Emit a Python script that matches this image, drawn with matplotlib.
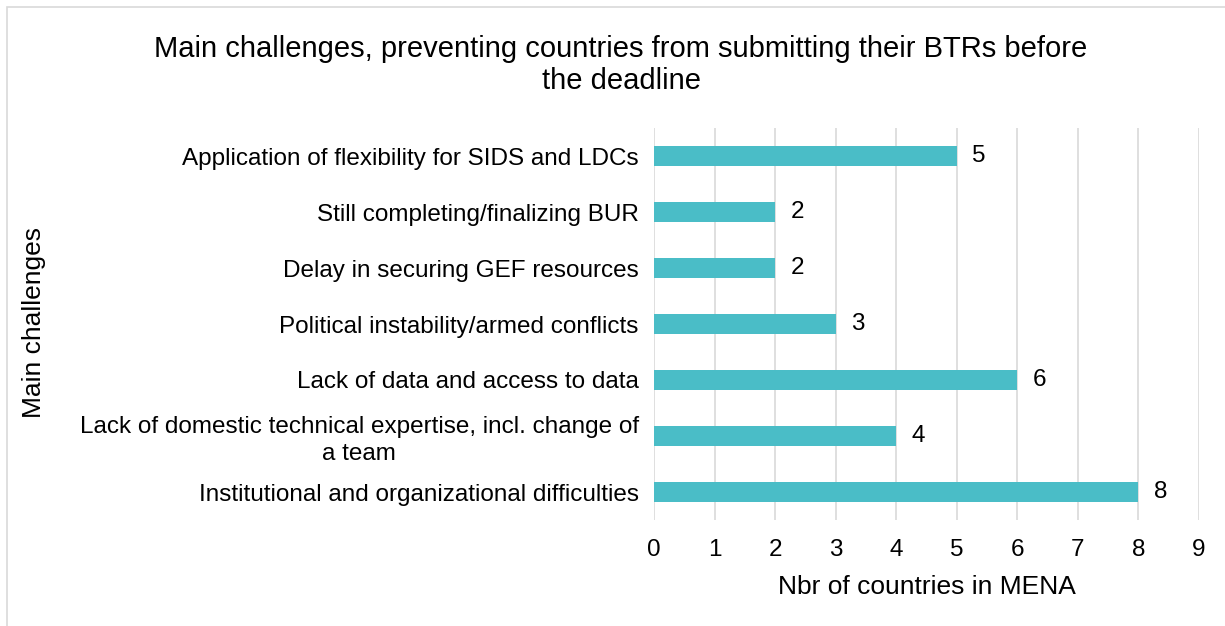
import matplotlib.pyplot as plt
from matplotlib.patches import Rectangle

plt.rcParams['font.family'] = ['Liberation Sans', 'DejaVu Sans']

categories = [
    "Institutional and organizational difficulties",
    "Lack of domestic technical expertise, incl. change of\na team",
    "Lack of data and access to data",
    "Political instability/armed conflicts",
    "Delay in securing GEF resources",
    "Still completing/finalizing BUR",
    "Application of flexibility for SIDS and LDCs",
]
counts = [8, 4, 6, 3, 2, 2, 5]
xticks = list(range(0, 10))

fig = plt.figure(figsize=(12.25, 6.26), dpi=100)
ax = fig.add_axes([654 / 1225, 1 - 520 / 626, 545 / 1225, 392 / 626])

# light border around the chart area
fig.patches.append(Rectangle((7 / 1225, -0.01), 1.0, 1 - 7 / 626 + 0.01,
                             transform=fig.transFigure, fill=False,
                             edgecolor='#D9D9D9', linewidth=1.2))

y = list(range(len(categories)))
ax.barh(y, counts, height=0.36, color='#4ABDC7', zorder=3)
for yi, v in zip(y, counts):
    ax.text(v + 0.25, yi, str(v), va='center', ha='left', fontsize=17.5, color='black')

ax.set_xlim(0, 9)
ax.set_ylim(-0.5, len(categories) - 0.5)
ax.set_xticks(xticks)
ax.set_yticks(y)
ax.set_yticklabels(categories, fontsize=17.5)
for lbl in ax.get_yticklabels():
    lbl.set_multialignment('center')
    lbl.set_linespacing(1.25)
ax.tick_params(axis='x', labelsize=17.5, length=0, pad=14)
ax.tick_params(axis='y', length=0, pad=11)
ax.grid(axis='x', color='#D9D9D9', linewidth=1.2, zorder=0)
for s in ax.spines.values():
    s.set_visible(False)

ax.set_xlabel('Nbr of countries in MENA', fontsize=19, labelpad=10)
fig.text(34 / 1225, 1 - 323 / 626, 'Main challenges', rotation=90,
         ha='center', va='center', fontsize=19)
fig.text(621 / 1225, 1 - 65 / 626,
         'Main challenges, preventing countries from submitting their BTRs before\nthe deadline',
         ha='center', va='center', fontsize=21, linespacing=1.2)

fig.savefig('out.png', dpi=100)
